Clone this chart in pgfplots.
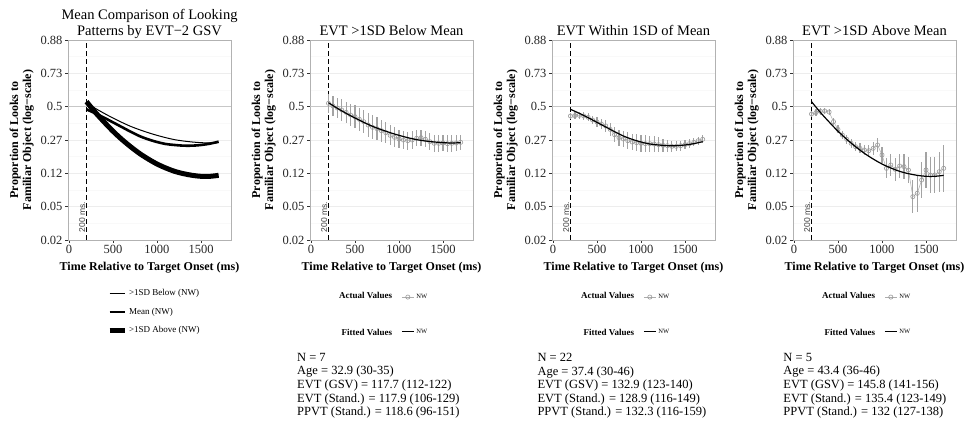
\documentclass[border=0pt]{standalone}
\usepackage{fontspec}
\setmainfont{Liberation Serif}
\newfontfamily\annfont{Liberation Sans}
\usepackage{pgfplots}
\pgfplotsset{compat=1.18}
\usepackage{pgfplotstable}

\definecolor{ptgray}{gray}{0.6}
\definecolor{gridmaj}{gray}{0.93}
\definecolor{gridmin}{gray}{0.975}
\definecolor{hlgray}{gray}{0.78}
\definecolor{boxgray}{gray}{0.7}

% fitted curves (logit scale)
\pgfplotstableread{
t y
200 0.12
300 -0.05
400 -0.20
500 -0.34
600 -0.47
700 -0.59
800 -0.69
900 -0.78
1000 -0.86
1100 -0.93
1200 -0.99
1300 -1.03
1400 -1.06
1500 -1.08
1600 -1.09
1700 -1.08
}\fitBelow

\pgfplotstableread{
t y
200 -0.08
300 -0.20
400 -0.33
500 -0.47
600 -0.61
700 -0.75
800 -0.88
900 -0.98
1000 -1.06
1100 -1.12
1200 -1.15
1300 -1.17
1400 -1.17
1500 -1.15
1600 -1.11
1700 -1.05
}\fitMean

\pgfplotstableread{
t y
200 0.15
300 -0.17
400 -0.46
500 -0.735
600 -0.98
700 -1.20
800 -1.40
900 -1.57
1000 -1.72
1100 -1.84
1200 -1.94
1300 -2.01
1400 -2.06
1500 -2.09
1600 -2.09
1700 -2.06
}\fitAbove

% actual values with error (logit scale)
\pgfplotstableread{
t y e
200 0.10 0.28
250 0.02 0.30
300 -0.04 0.30
350 -0.10 0.32
400 -0.17 0.32
450 -0.25 0.33
500 -0.30 0.34
550 -0.38 0.34
600 -0.45 0.35
650 -0.55 0.36
700 -0.62 0.36
750 -0.66 0.34
800 -0.72 0.33
850 -0.78 0.32
900 -0.86 0.30
950 -0.92 0.30
1000 -0.97 0.28
1050 -1.00 0.27
1100 -1.02 0.27
1150 -1.00 0.26
1200 -0.95 0.24
1250 -0.93 0.24
1300 -0.98 0.24
1350 -1.05 0.25
1400 -1.10 0.25
1450 -1.10 0.25
1500 -1.09 0.25
1550 -1.11 0.26
1600 -1.10 0.25
1650 -1.09 0.24
1700 -1.07 0.22
}\ptsBelow

\pgfplotstableread{
t y e
200 -0.28 0.10
250 -0.27 0.10
300 -0.26 0.10
350 -0.28 0.11
400 -0.32 0.12
450 -0.40 0.13
500 -0.46 0.14
550 -0.52 0.15
600 -0.58 0.17
650 -0.68 0.20
700 -0.84 0.22
750 -0.93 0.24
800 -0.97 0.25
850 -1.02 0.25
900 -1.06 0.25
950 -1.08 0.26
1000 -1.10 0.26
1050 -1.11 0.25
1100 -1.11 0.24
1150 -1.12 0.24
1200 -1.14 0.22
1250 -1.16 0.20
1300 -1.17 0.18
1350 -1.19 0.16
1400 -1.19 0.15
1450 -1.17 0.15
1500 -1.14 0.14
1550 -1.11 0.13
1600 -1.07 0.12
1650 -1.02 0.12
1700 -0.98 0.12
}\ptsMean

\pgfplotstableread{
t y e
200 -0.22 0.10
250 -0.18 0.10
300 -0.14 0.10
350 -0.13 0.10
400 -0.16 0.10
450 -0.45 0.10
500 -0.68 0.12
550 -0.85 0.12
600 -0.98 0.13
650 -1.10 0.13
700 -1.20 0.14
750 -1.25 0.15
800 -1.30 0.16
850 -1.32 0.18
900 -1.25 0.20
950 -1.15 0.22
1000 -1.45 0.25
1050 -1.85 0.30
1100 -1.75 0.32
1150 -1.88 0.34
1200 -1.78 0.36
1250 -1.80 0.38
1300 -1.90 0.40
1350 -2.70 0.50
1400 -2.60 0.55
1450 -2.20 0.55
1500 -1.90 0.55
1550 -2.05 0.55
1600 -2.05 0.55
1650 -1.95 0.60
1700 -1.85 0.70
}\ptsAbove

\pgfplotsset{
  panel/.style={
    scale only axis, width=163pt, height=200pt, anchor=south west,
    xmin=-10, xmax=1840, ymin=-4, ymax=2,
    xtick={0,500,1000,1500}, xticklabels={0,500,1000,1500},
    ytick={-4,-3,-2,-1,0,1,2},
    yticklabels={0.02,0.05,0.12,0.27,0.5,0.73,0.88},
    minor ytick={-3.5,-2.5,-1.5,-0.5,0.5,1.5},
    ymajorgrids, yminorgrids,
    major grid style={gridmaj, line width=0.5pt},
    minor grid style={gridmin, line width=0.4pt},
    axis line style={boxgray, line width=0.7pt},
    tick align=outside, xtick pos=lower, ytick pos=left,
    major tick length=3pt, minor tick length=0pt,
    tick style={black!80, line width=0.6pt},
    ticklabel style={font=\fontsize{12.5}{14}\selectfont, text=black!85},
    xticklabel style={yshift=1pt},
    yticklabel style={xshift=1pt},
    /pgf/number format/assume math mode=true,
    xlabel={Time Relative to Target Onset (ms)},
    ylabel={Proportion of Looks to\\Familiar Object (log−scale)},
    label style={font=\bfseries\fontsize{12}{13}\selectfont},
    ylabel style={align=center, yshift=0pt},
    xlabel style={yshift=-1pt},
    title style={font=\fontsize{14.5}{16}\selectfont, align=center, yshift=-5pt},
    clip mode=individual,
  },
  sublegend/.style={
    legend style={at={(0.54,-0.25)}, anchor=north west, draw=none, fill=none,
      font=\fontsize{6.5}{7.5}\selectfont, row sep=25pt, cells={anchor=west}},
    legend image code/.code={\draw[mark repeat=2,mark phase=2,##1] plot coordinates {(0pt,0pt) (6pt,0pt) (12pt,0pt)};},
  },
  actual/.style={ptgray!80, line width=0.5pt, mark=o, mark size=2.1pt,
    mark options={ptgray, line width=0.6pt, solid},
    error bars/.cd, y dir=both, y explicit, error mark=none,
    error bar style={ptgray!90, line width=1.2pt}},
  fitted/.style={black, line width=1.2pt, smooth, no marks},
}

\newcommand{\refgraphics}{%
  \addplot[hlgray, line width=1pt, forget plot] coordinates {(-10,0) (1840,0)};
  \addplot[black, line width=1.1pt, dash pattern=on 5pt off 3pt, forget plot] coordinates {(200,-4) (200,2)};
  \node[rotate=90, anchor=south west, font=\annfont\fontsize{8.5}{9}\selectfont, text=black!75, inner sep=1pt] at (axis cs:200,-3.8) {200 ms.};
}

\begin{document}
\begin{tikzpicture}
\path[use as bounding box] (0,0) rectangle (969pt,428pt);

% Panel 1
\begin{axis}[panel, at={(68pt,188pt)},
  title={Mean Comparison of Looking\\Patterns by EVT−2 GSV},
  title style={yshift=-3.5pt},
  legend style={at={(0.22,-0.225)}, anchor=north west, draw=none, fill=none,
    font=\fontsize{9}{10}\selectfont, row sep=7pt, cells={anchor=west}},
  legend image code/.code={\draw[#1] (0pt,0pt) -- (15pt,0pt);},
]
\refgraphics
\addplot[black, line width=1pt, smooth, no marks] table[x=t,y=y] {\fitBelow};
\addlegendentry{>1SD Below (NW)}
\addplot[black, line width=2.6pt, smooth, no marks] table[x=t,y=y] {\fitMean};
\addlegendentry{Mean (NW)}
\addplot[black, line width=5pt, smooth, no marks] table[x=t,y=y] {\fitAbove};
\addlegendentry{>1SD Above (NW)}
\end{axis}

% Panel 2
\begin{axis}[panel, sublegend, at={(310pt,188pt)}, title={EVT >1SD Below Mean}]
\refgraphics
\addplot[actual] table[x=t,y=y,y error=e] {\ptsBelow};
\addlegendentry{NW}
\addplot[fitted] table[x=t,y=y] {\fitBelow};
\addlegendentry{NW}
\node[anchor=east, font=\bfseries\fontsize{9}{10}\selectfont] at (rel axis cs:0.525,-0.275) {Actual Values};
\node[anchor=east, font=\bfseries\fontsize{9}{10}\selectfont] at (rel axis cs:0.525,-0.46) {Fitted Values};
\node[anchor=north west, align=left, font=\fontsize{12.5}{13.6}\selectfont, inner sep=0pt] at (rel axis cs:-0.08,-0.565)
 {N = 7\\Age = 32.9 (30-35)\\EVT (GSV) = 117.7 (112-122)\\EVT (Stand.) = 117.9 (106-129)\\PPVT (Stand.) = 118.6 (96-151)};
\end{axis}

% Panel 3
\begin{axis}[panel, sublegend, at={(552pt,188pt)}, title={EVT Within 1SD of Mean}]
\refgraphics
\addplot[actual] table[x=t,y=y,y error=e] {\ptsMean};
\addlegendentry{NW}
\addplot[fitted] table[x=t,y=y] {\fitMean};
\addlegendentry{NW}
\node[anchor=east, font=\bfseries\fontsize{9}{10}\selectfont] at (rel axis cs:0.525,-0.275) {Actual Values};
\node[anchor=east, font=\bfseries\fontsize{9}{10}\selectfont] at (rel axis cs:0.525,-0.46) {Fitted Values};
\node[anchor=north west, align=left, font=\fontsize{12.5}{13.6}\selectfont, inner sep=0pt] at (rel axis cs:-0.09,-0.565)
 {N = 22\\Age = 37.4 (30-46)\\EVT (GSV) = 132.9 (123-140)\\EVT (Stand.) = 128.9 (116-149)\\PPVT (Stand.) = 132.3 (116-159)};
\end{axis}

% Panel 4
\begin{axis}[panel, sublegend, at={(793pt,188pt)}, title={EVT >1SD Above Mean}]
\refgraphics
\addplot[actual] table[x=t,y=y,y error=e] {\ptsAbove};
\addlegendentry{NW}
\addplot[fitted] table[x=t,y=y] {\fitAbove};
\addlegendentry{NW}
\node[anchor=east, font=\bfseries\fontsize{9}{10}\selectfont] at (rel axis cs:0.525,-0.275) {Actual Values};
\node[anchor=east, font=\bfseries\fontsize{9}{10}\selectfont] at (rel axis cs:0.525,-0.46) {Fitted Values};
\node[anchor=north west, align=left, font=\fontsize{12.5}{13.6}\selectfont, inner sep=0pt] at (rel axis cs:-0.06,-0.565)
 {N = 5\\Age = 43.4 (36-46)\\EVT (GSV) = 145.8 (141-156)\\EVT (Stand.) = 135.4 (123-149)\\PPVT (Stand.) = 132 (127-138)};
\end{axis}
\end{tikzpicture}
\end{document}
